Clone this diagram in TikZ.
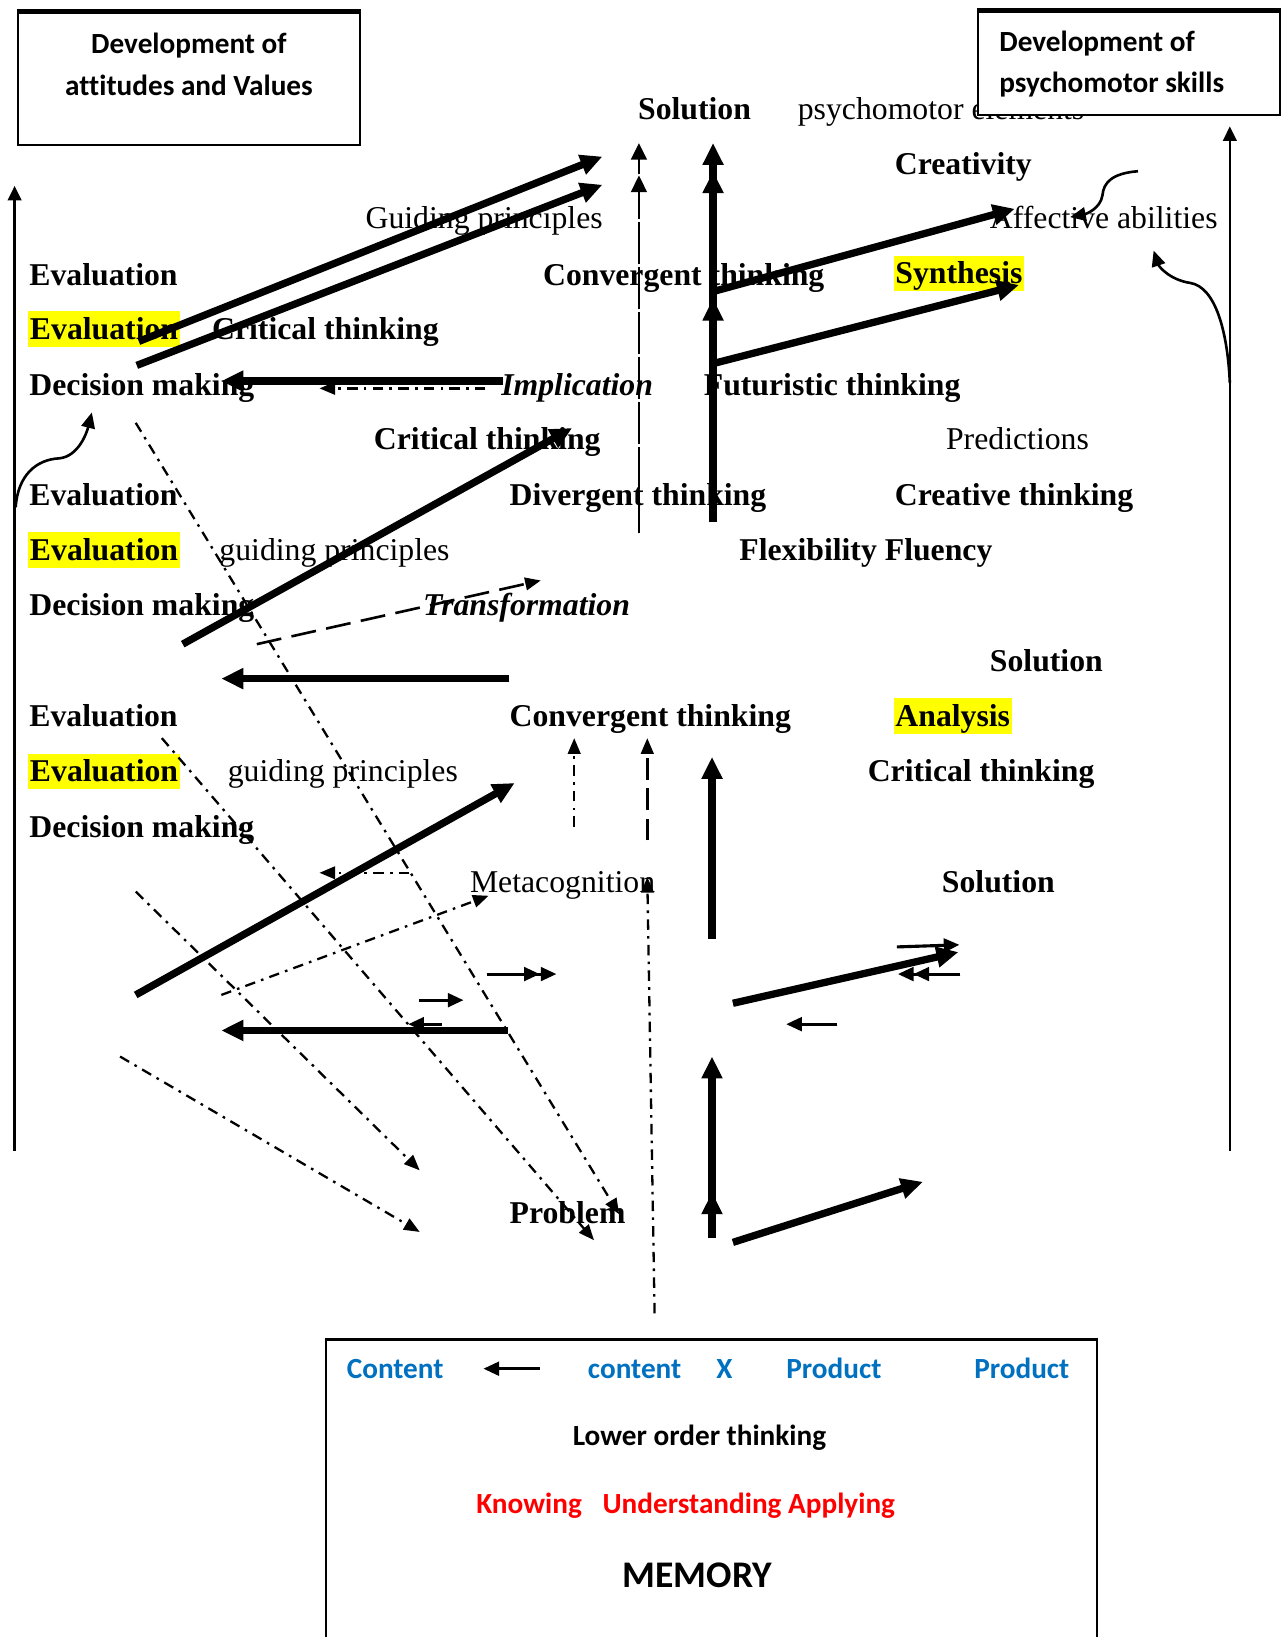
\documentclass[tikz,border=0pt]{standalone}
\usepackage{fontspec}
\setmainfont{Liberation Serif}
\newfontfamily\calibfont[Ligatures=NoCommon]{Carlito}
\usetikzlibrary{arrows.meta}
\definecolor{hlyellow}{RGB}{255,255,0}
\definecolor{ctblue}{RGB}{0,112,192}
\definecolor{ctred}{RGB}{255,0,0}

\begin{document}
\begin{tikzpicture}[x=1pt,y=-1pt,
  lbl/.style={anchor=base west,inner sep=0pt,font=\fontsize{30.4}{36}\selectfont},
  blbl/.style={lbl,font=\fontsize{30.4}{36}\selectfont\bfseries},
  ilbl/.style={lbl,font=\fontsize{30.4}{36}\selectfont\bfseries\itshape},
  hl/.style={blbl,fill=hlyellow,inner xsep=1.5pt,inner ysep=0pt,text height=27pt,text depth=7pt},
  boxtxt/.style={inner sep=0pt,font=\fontsize{28}{32}\selectfont\calibfont\bfseries},
  heavyarr/.style={line width=7pt,-{Triangle[length=21pt,width=19pt]}},
  thinarr/.style={line width=2.5pt,-{Triangle[length=14pt,width=13pt]}},
  curvarr/.style={line width=2.5pt,-{Triangle[length=15pt,width=13pt]}},
  smallarr/.style={line width=3pt,-{Triangle[length=15pt,width=13pt]}},
  dotdash/.style={line width=2.2pt,dash pattern=on 10pt off 6pt on 2.5pt off 6pt,-{Triangle[length=15pt,width=12pt]}},
  dasharr/.style={line width=2.5pt,dash pattern=on 24pt off 10pt,-{Triangle[length=15pt,width=12pt]}},
  longdash/.style={line width=2.5pt,dash pattern=on 21pt off 8pt,-{Triangle[length=15pt,width=12pt]}},
  splitline/.style={line width=2.5pt,dash pattern=on 40pt off 3pt,-{Triangle[length=16pt,width=15pt]}}
]
\useasboundingbox (0,0) rectangle (1229,1568);

% ---- left box: attitudes and values
\draw[line width=2pt] (17,10) rectangle (345,139);
\draw[line width=4.5pt] (17,11) -- (345,11);
\node[boxtxt,anchor=base] (lb1) at (181,51) {Development of};
\node[boxtxt,anchor=base] (lb2) at (181,91) {attitudes and Values};

% ---- labels
\node[blbl] (sol1) at (611,114) {Solution};
\node[lbl] (psy) at (764,114) {psychomotor elements};
\node[blbl] (crea) at (857,167) {Creativity};
\node[lbl] (guid1) at (350,219) {Guiding principles};
\node[lbl] (aff) at (948,219) {Affective abilities};
\node[blbl] (ev1) at (28,273) {Evaluation};
\node[blbl] (conv1) at (520,273) {Convergent thinking};
\node[hl] (syn) at (856,272) {Synthesis};
\node[hl] (ev2) at (27,325) {Evaluation};
\node[blbl] (crit1) at (203,325) {Critical thinking};
\node[blbl] (dec1) at (28,379) {Decision making};
\node[ilbl] (impl) at (480,379) {Implication};
\node[blbl] (fut) at (674,379) {Futuristic thinking};
\node[blbl] (crit2) at (358,431) {Critical thinking};
\node[lbl] (pred) at (906,431) {Predictions};
\node[blbl] (ev3) at (28,484) {Evaluation};
\node[blbl] (div) at (488,484) {Divergent thinking};
\node[blbl] (creth) at (857,484) {Creative thinking};
\node[hl] (ev4) at (27,537) {Evaluation};
\node[lbl] (guid2) at (210,537) {guiding principles};
\node[blbl] (flex) at (708,537) {Flexibility Fluency};
\node[blbl] (dec2) at (28,590) {Decision making};
\node[ilbl] (trans) at (405,590) {Transformation};
\node[blbl] (sol2) at (948,643) {Solution};
\node[blbl] (ev5) at (28,696) {Evaluation};
\node[blbl] (conv2) at (488,696) {Convergent thinking};
\node[hl] (ana) at (856,696) {Analysis};
\node[hl] (ev6) at (27,749) {Evaluation};
\node[lbl] (guid3) at (218,749) {guiding principles};
\node[blbl] (crit3) at (831,749) {Critical thinking};
\node[blbl] (dec3) at (28,802) {Decision making};
\node[lbl] (meta) at (450,855) {Metacognition};
\node[blbl] (sol3) at (902,855) {Solution};
\node[blbl] (prob) at (488,1172) {Problem};

% ---- right box: psychomotor skills (covers the end of the label below it)
\draw[line width=2pt,fill=white] (937,9) rectangle (1226,110);
\draw[line width=4pt] (937,10) -- (1226,10);
\node[boxtxt,anchor=base west] (rb1) at (957,49.5) {Development of};
\node[boxtxt,anchor=base west] (rb2) at (957,89) {psychomotor skills};

% ---- side frame arrows and curved links
\draw[thinarr] (14,1102) -- (14,178);
\draw[thinarr] (1178,1102) -- (1178,121);
\draw[curvarr] (15,486) .. controls (17,455) and (35,440) .. (57,439)
  .. controls (75,437) and (83,415) .. (88,395);
\draw[curvarr] (1090,164) .. controls (1065,166) and (1057,175) .. (1056,187)
  .. controls (1054,200) and (1040,205) .. (1025,208);
\draw[curvarr] (1178,367) .. controls (1176,320) and (1165,275) .. (1140,271)
  .. controls (1120,268) and (1110,255) .. (1105,240);

% ---- upper left heavy arrows
\draw[heavyarr] (133,327) -- (577,150);
\draw[heavyarr] (131,350) -- (577,177);
\draw[heavyarr] (482,365) -- (212,365);
\draw[dotdash] (465,372) -- (306,372);
\draw[heavyarr] (175,617) -- (548,410);
\draw[dasharr] (246,617) -- (518,556);
\draw[heavyarr] (488,650) -- (212,650);
\draw[heavyarr] (130,953) -- (493,750);
\draw[heavyarr] (487,987) -- (212,987);

% ---- dash-dot diagonals towards the problem
\draw[dotdash] (130,405) -- (593,1163);
\draw[dotdash] (155,707) -- (569,1188);
\draw[dotdash] (130,854) -- (402,1121);
\draw[dotdash] (115,1012) -- (402,1180);
\draw[dotdash] (212,953) -- (468,858);
\draw[dotdash] (392,836) -- (306,836);
\draw[dotdash] (627,1258) -- (620,840);
\draw[dotdash] (550,792) -- (550,707);
\draw[longdash] (620,805) -- (620,707);

% ---- small arrows in the middle
\draw[smallarr] (401,958) -- (444,958);
\draw[smallarr] (466,933) -- (533,933);
\draw[smallarr] (466,933) -- (517,933);
\draw[smallarr] (423,981) -- (391,981);
\draw[smallarr] (859,907) -- (919,905);
\draw[smallarr] (920,933) -- (860,933);
\draw[smallarr] (920,933) -- (875,933);
\draw[smallarr] (802,981) -- (753,981);

% ---- right column heavy arrows
\draw[heavyarr] (702,961) -- (918,912);
\draw[heavyarr] (682,899) -- (682,725);
\draw[heavyarr] (682,1186) -- (682,1012);
\draw[heavyarr] (682,1186) -- (682,1142);
\draw[heavyarr] (702,1190) -- (884,1132);

% ---- top centre columns
\draw[heavyarr] (683,500) -- (683,137);
\draw[heavyarr] (683,500) -- (683,164);
\draw[heavyarr] (683,500) -- (683,286);
\draw[heavyarr] (684,279) -- (972,200);
\draw[heavyarr] (684,348) -- (976,273);
\draw[splitline] (612,511) -- (612,137);
\draw[splitline] (612,511) -- (612,168);

% ---- bottom box: lower order thinking
\draw[line width=2pt] (312,1575) -- (312,1283) -- (1051,1283) -- (1051,1575);
\node[boxtxt,anchor=base west,text=ctblue] (c1) at (332,1320) {Content};
\node[boxtxt,anchor=base west,text=ctblue] (c2) at (563,1320) {content};
\node[boxtxt,anchor=base west,text=ctblue] (cx) at (686,1320) {X};
\node[boxtxt,anchor=base west,text=ctblue] (p1) at (753,1320) {Product};
\node[boxtxt,anchor=base west,text=ctblue] (p2) at (933,1320) {Product};
\draw[smallarr] (517,1311) -- (463,1311);
\node[boxtxt,anchor=base] (low) at (670,1385) {Lower order thinking};
\node[boxtxt,anchor=base west,text=ctred] (know) at (456,1450) {Knowing};
\node[boxtxt,anchor=base west,text=ctred] (und) at (577,1450) {Understanding Applying};
\node[anchor=base,inner sep=0pt,font=\fontsize{36}{42}\selectfont\calibfont\bfseries] (mem) at (668,1521) {MEMORY};
\end{tikzpicture}
\end{document}
